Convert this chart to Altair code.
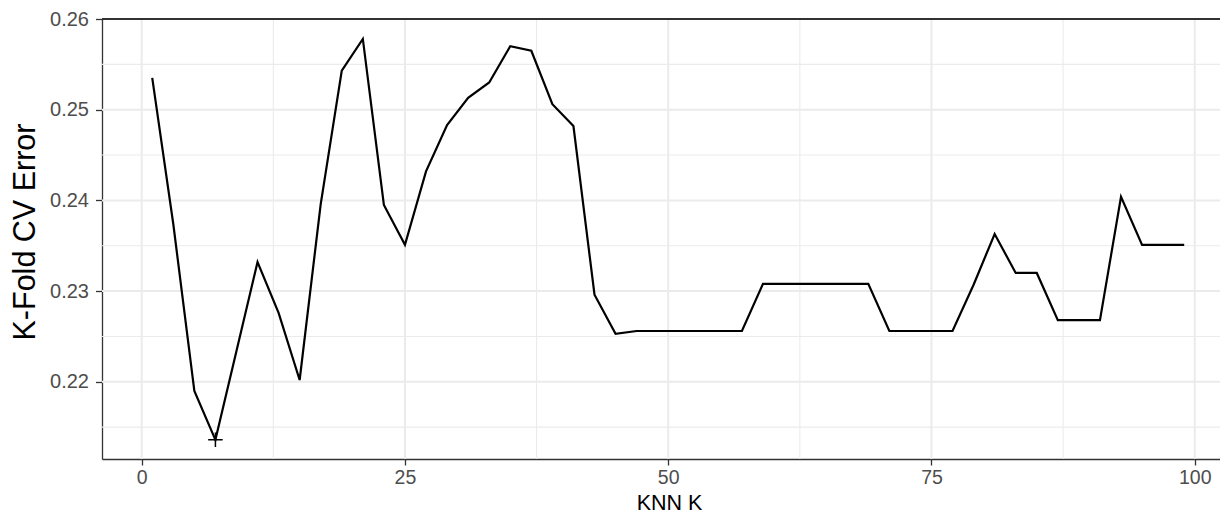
import altair as alt
import pandas as pd

# ---- data ----
k_values = [1, 3, 5, 7, 9, 11, 13, 15, 17, 19, 21, 23, 25, 27, 29, 31, 33, 35, 37, 39,
            41, 43, 45, 47, 49, 51, 53, 55, 57, 59, 61, 63, 65, 67, 69, 71, 73, 75, 77, 79,
            81, 83, 85, 87, 89, 91, 93, 95, 97, 99]
cv_error = [0.2535, 0.2374, 0.2190, 0.2136, 0.2234, 0.2332, 0.2276, 0.2202, 0.2396, 0.2543,
            0.2578, 0.2395, 0.2351, 0.2432, 0.2483, 0.2513, 0.2530, 0.2570, 0.2565, 0.2506,
            0.2482, 0.2296, 0.2253, 0.2256, 0.2256, 0.2256, 0.2256, 0.2256, 0.2256, 0.2308,
            0.2308, 0.2308, 0.2308, 0.2308, 0.2308, 0.2256, 0.2256, 0.2256, 0.2256, 0.2307,
            0.2363, 0.2320, 0.2320, 0.2268, 0.2268, 0.2268, 0.2404, 0.2351, 0.2351, 0.2351]

x_ticks = [0, 25, 50, 75, 100]
x_minor = [12.5, 37.5, 62.5, 87.5]
y_ticks = [0.22, 0.23, 0.24, 0.25, 0.26]
y_minor = [0.215, 0.225, 0.235, 0.245, 0.255]

x_title = "KNN K"
y_title = "K-Fold CV Error"

df = pd.DataFrame({"k": k_values, "err": cv_error})

W, H = 1118, 440
FONT = "Liberation Sans"
GRID = "#ebebeb"
DARK = "#333333"

xs = alt.Scale(domain=[-3.77, 102.40], nice=False, zero=False)
ys = alt.Scale(domain=[0.21149, 0.26], nice=False, zero=False)

x_enc = alt.X("k:Q", scale=xs, axis=alt.Axis(
    values=x_ticks, grid=False, title=x_title, format="d",
    domainColor=DARK, domainWidth=1.3, tickColor=DARK, tickWidth=1.3, tickSize=6,
    labelColor="#4d4d4d", labelFont=FONT, labelFontSize=19.5, labelPadding=3,
    titleFont=FONT, titleFontSize=21.5, titleFontWeight="normal", titleColor="#000000",
    titleX=567, titleY=50, titleBaseline="alphabetic", titleAlign="center"))
y_enc = alt.Y("err:Q", scale=ys, axis=alt.Axis(
    values=y_ticks, grid=False, title=y_title, format=".2f",
    domainColor=DARK, domainWidth=1.3, tickColor=DARK, tickWidth=1.3, tickSize=6.5,
    labelColor="#4d4d4d", labelFont=FONT, labelFontSize=20, labelPadding=7,
    titleFont=FONT, titleFontSize=30.5, titleFontWeight="normal", titleColor="#000000",
    titleX=-77, titleY=212.5, titleBaseline="middle", titleAlign="center", titleAngle=270))

minor_x = alt.Chart(pd.DataFrame({"v": x_minor})).mark_rule(color=GRID, strokeWidth=1.1).encode(
    x=alt.X("v:Q", scale=xs))
major_x = alt.Chart(pd.DataFrame({"v": x_ticks})).mark_rule(color=GRID, strokeWidth=2).encode(
    x=alt.X("v:Q", scale=xs))
minor_y = alt.Chart(pd.DataFrame({"v": y_minor})).mark_rule(color=GRID, strokeWidth=1.1).encode(
    y=alt.Y("v:Q", scale=ys))
major_y = alt.Chart(pd.DataFrame({"v": y_ticks})).mark_rule(color=GRID, strokeWidth=2).encode(
    y=alt.Y("v:Q", scale=ys))

line = alt.Chart(df).mark_line(color="black", strokeWidth=2.2).encode(x=x_enc, y=y_enc)

best = alt.Chart(df).transform_joinaggregate(
    min_err="min(err)"
).transform_filter("datum.err == datum.min_err").mark_point(
    shape="M -1 0 L 1 0 M 0 -1 L 0 1", size=210, filled=False,
    stroke="black", strokeWidth=1.5, opacity=1
).encode(x=alt.X("k:Q", scale=xs), y=alt.Y("err:Q", scale=ys))

top_border = alt.Chart(df).mark_rule(color=DARK, strokeWidth=1.3).encode(
    x=alt.value(0), x2=alt.value(W), y=alt.value(0))

chart = alt.layer(minor_x, minor_y, major_x, major_y, line, best, top_border).properties(
    width=W, height=H,
    autosize=alt.AutoSizeParams(type="none"),
    padding={"left": 94, "top": 11, "right": 0, "bottom": 55},
).configure_view(stroke=None).configure(background="white")

chart.save("out.html", embed_options={"renderer": "svg", "actions": False})
